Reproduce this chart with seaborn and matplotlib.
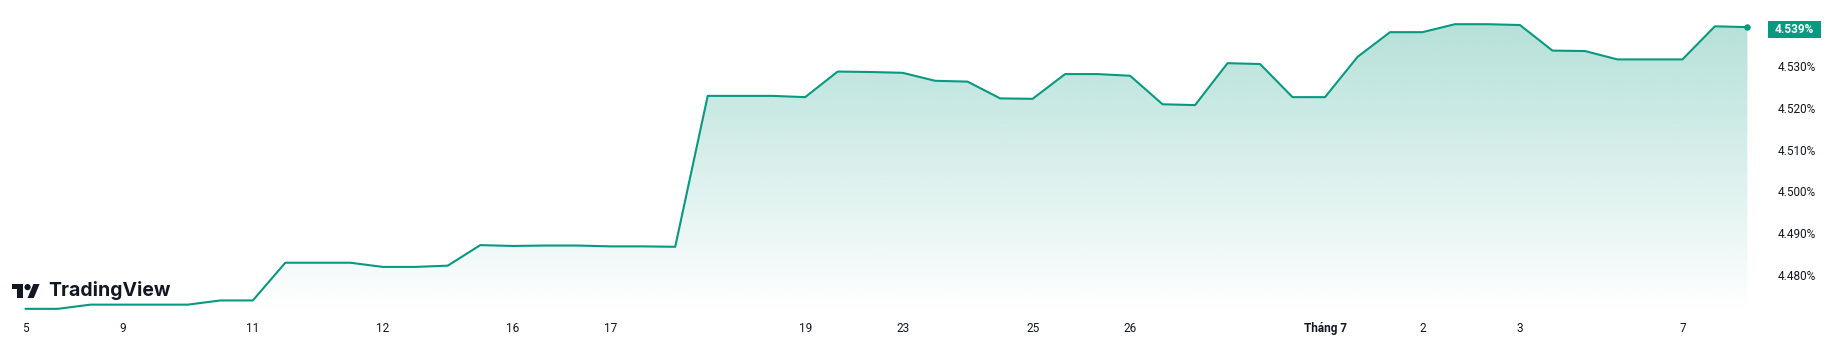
import numpy as np
import pandas as pd
import matplotlib
matplotlib.use("Agg")
import matplotlib.pyplot as plt
import seaborn as sns
from matplotlib.patches import Rectangle, Circle, Polygon
from matplotlib.transforms import blended_transform_factory

# ---- data ----
yields = [
    4.4720, 4.4720, 4.4730, 4.4730, 4.4730, 4.4730, 4.4740, 4.4740,
    4.4830, 4.4830, 4.4830, 4.4820, 4.4820, 4.4823, 4.4872, 4.4870,
    4.4871, 4.4871, 4.4869, 4.4869, 4.4868, 4.5228, 4.5228, 4.5228,
    4.5225, 4.5286, 4.5285, 4.5283, 4.5264, 4.5262, 4.5222, 4.5221,
    4.5280, 4.5280, 4.5276, 4.5208, 4.5206, 4.5306, 4.5304, 4.5225,
    4.5225, 4.5321, 4.5380, 4.5380, 4.5399, 4.5399, 4.5397, 4.5336,
    4.5335, 4.5315, 4.5315, 4.5315, 4.5394, 4.5392,
]
tick_positions = [0, 3, 7, 11, 15, 18, 24, 27, 31, 34, 40, 43, 46, 51]
tick_labels = ["5", "9", "11", "12", "16", "17", "19", "23", "25", "26",
               "Tháng 7", "2", "3", "7"]
y_ticks = [4.48, 4.49, 4.50, 4.51, 4.52, 4.53]

LINE = "#089981"
TEXT = "#131722"
W, H = 1832, 349

sns.set_theme(style="white")
plt.rcParams["font.family"] = ["Roboto", "DejaVu Sans"]

fig = plt.figure(figsize=(W / 100, H / 100), dpi=100)
fig.patch.set_facecolor("white")
ax_bottom_px = 312
ax_right_px = 1760
ax = fig.add_axes([0, 1 - ax_bottom_px / H, ax_right_px / W, ax_bottom_px / H])
ax.set_facecolor("white")

n = len(yields)
df = pd.DataFrame({"idx": np.arange(n), "yield": yields})
sns.lineplot(data=df, x="idx", y="yield", color=LINE, linewidth=1.5, ax=ax, zorder=4)

# scales
step = (1747.4 - 25.4) / (n - 1)
px_per_unit = 4192.0
ylo = 4.530 - (ax_bottom_px - 65.7) / px_per_unit
yhi = 4.530 + 65.7 / px_per_unit

# gradient fill under the line
poly = ax.fill_between(df["idx"], df["yield"], ylo, facecolor="none", edgecolor="none")
grad = np.zeros((256, 1, 4))
grad[:, 0, 0] = 8 / 255
grad[:, 0, 1] = 153 / 255
grad[:, 0, 2] = 129 / 255
grad[:, 0, 3] = np.linspace(0.30, 0.0, 256)
im = ax.imshow(grad, extent=[0, n - 1, ylo, max(yields)], aspect="auto",
               origin="upper", zorder=2, interpolation="bilinear")
im.set_clip_path(poly.get_paths()[0], transform=ax.transData)
ax.set_xlim(-25.4 / step, (n - 1) + (ax_right_px - 1747.4) / step)
ax.set_ylim(ylo, yhi)

# last point dot
ax.scatter([n - 1], [yields[-1]], s=22, color=LINE, zorder=5, clip_on=False, linewidths=0)

# axes styling
for s in ax.spines.values():
    s.set_visible(False)
ax.grid(False)
ax.set_xlabel("")
ax.set_ylabel("")

ax.yaxis.tick_right()
ax.set_yticks(y_ticks)
ax.set_yticklabels([f"{v:.3f}%" for v in y_ticks])
ax.tick_params(axis="y", length=0, pad=13, labelsize=8.5, labelcolor=TEXT)

ax.set_xticks(tick_positions)
ax.set_xticklabels(tick_labels)
ax.tick_params(axis="x", length=0, pad=7, labelsize=8.5, labelcolor=TEXT)
for t in ax.get_xticklabels():
    if t.get_text().startswith("Tháng"):
        t.set_fontweight("bold")

# last value label
last = yields[-1]
label_val = round(last, 3)
bt = blended_transform_factory(ax.transAxes, ax.transData)
box_h = 17 / px_per_unit
ax.add_patch(Rectangle((1768 / ax_right_px, label_val - box_h / 2 - 1.2 / px_per_unit),
                       53 / ax_right_px, box_h, transform=bt, facecolor=LINE,
                       edgecolor="none", clip_on=False, zorder=6))
ax.text((1768 + 26.5) / ax_right_px, label_val - 1.2 / px_per_unit, f"{label_val:.3f}%",
        transform=bt, ha="center", va="center", color="white", fontsize=8.5,
        fontweight="bold", clip_on=False, zorder=7)

# TradingView logo (decoration)
def lp(x, y):
    k = 0.778
    return ((12 + x * k) / W, 1 - (284 + (y - 4) * k) / H)

fig.add_artist(Polygon([lp(0, 4), lp(14, 4), lp(14, 22), lp(7, 22), lp(7, 11), lp(0, 11)],
                       closed=True, transform=fig.transFigure, facecolor=TEXT, edgecolor="none"))
cx, cy = lp(20, 8)
fig.add_artist(Circle((cx * W, cy * H), 4 * 0.778, transform=None,
                      facecolor=TEXT, edgecolor="none"))
fig.add_artist(Polygon([lp(28, 22), lp(20, 22), lp(27.5, 4), lp(35.5, 4)],
                       closed=True, transform=fig.transFigure, facecolor=TEXT, edgecolor="none"))
fig.text(48.5 / W, 1 - 290 / H, "TradingView", ha="left", va="center", fontsize=14,
         fontweight="bold", color=TEXT, family=["Inter", "DejaVu Sans"])

fig.savefig("out.png", dpi=100, facecolor="white")
